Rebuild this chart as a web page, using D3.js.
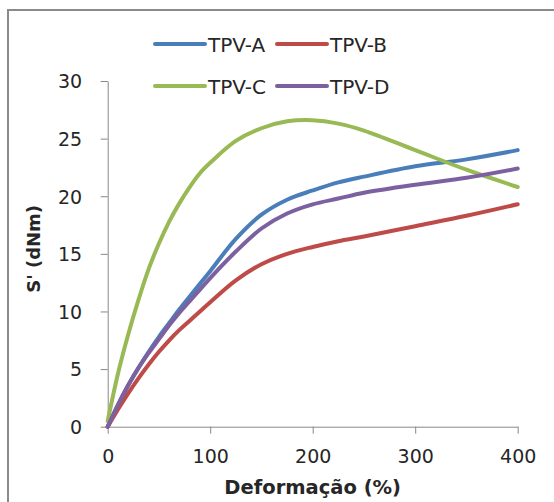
<!DOCTYPE html>
<html>
<head>
<meta charset="utf-8">
<script src="https://cdn.jsdelivr.net/npm/d3@7"></script>
<style>
  html, body { margin: 0; padding: 0; background: #ffffff; }
  svg { display: block; }
  text { font-family: "DejaVu Sans", sans-serif; fill: #262626; }
</style>
</head>
<body>
<svg id="chart" width="554" height="502"></svg>
<script>
// Strain steps (%) at which the modulus was recorded
const strain = [0, 10, 20, 30, 40, 50, 60, 70, 80, 90, 100, 125, 150, 175, 200, 225, 250, 300, 350, 400];

// Elastic torque S' (dNm) for each compound
const tpvA = [0, 1.9, 3.6, 5.1, 6.5, 7.8, 9.0, 10.2, 11.3, 12.4, 13.5, 16.3, 18.4, 19.7, 20.5, 21.2, 21.7, 22.6, 23.2, 24.0];
const tpvB = [0, 1.5, 2.9, 4.2, 5.4, 6.5, 7.5, 8.4, 9.2, 10.0, 10.8, 12.7, 14.1, 15.0, 15.6, 16.1, 16.5, 17.4, 18.3, 19.3];
const tpvC = [0.5, 4.6, 8.0, 11.0, 13.7, 15.9, 17.8, 19.4, 20.8, 22.0, 22.9, 24.8, 25.9, 26.5, 26.6, 26.3, 25.7, 24.0, 22.3, 20.8];
const tpvD = [0, 1.9, 3.6, 5.1, 6.4, 7.6, 8.8, 9.9, 10.9, 11.9, 12.9, 15.2, 17.2, 18.5, 19.3, 19.8, 20.3, 21.0, 21.6, 22.4];

const seriesNames = ["TPV-A", "TPV-B", "TPV-C", "TPV-D"];
const seriesColors = ["#4A7EBB", "#BE4B48", "#98B954", "#7D60A0"];
const seriesValues = [tpvA, tpvB, tpvC, tpvD];

const xTicks = [0, 100, 200, 300, 400];
const yTicks = [0, 5, 10, 15, 20, 25, 30];
const xTitle = "Deformação (%)";
const yTitle = "S' (dNm)";

const svg = d3.select("#chart");

// Chart frame
svg.append("rect")
  .attr("x", 8).attr("y", 10)
  .attr("width", 570).attr("height", 520)
  .attr("fill", "#ffffff")
  .attr("stroke", "#8a8a8a")
  .attr("stroke-width", 2);

const x = d3.scaleLinear().domain([0, 400]).range([107.7, 517.7]);
const y = d3.scaleLinear().domain([0, 30]).range([426.7, 81]);

const axisColor = "#888888";

// X axis
const gx = svg.append("g")
  .attr("transform", `translate(0,${y(0)})`)
  .call(d3.axisBottom(x).tickValues(xTicks).tickSize(7).tickSizeOuter(0).tickFormat(d3.format("d")));
gx.select(".domain").attr("stroke", axisColor);
gx.selectAll(".tick line").attr("stroke", axisColor);
gx.selectAll(".tick text")
  .attr("y", 36).attr("dy", null)
  .style("font-size", "19px")
  .style("font-family", "'DejaVu Sans', sans-serif")
  .attr("fill", "#262626");

// Y axis
const gy = svg.append("g")
  .attr("transform", `translate(${x(0)},0)`)
  .call(d3.axisLeft(y).tickValues(yTicks).tickSize(7).tickSizeOuter(0).tickFormat(d3.format("d")));
gy.select(".domain").attr("stroke", axisColor);
gy.selectAll(".tick line").attr("stroke", axisColor);
gy.selectAll(".tick text")
  .attr("x", -25.5).attr("dy", "0.36em")
  .style("font-size", "19px")
  .style("font-family", "'DejaVu Sans', sans-serif")
  .attr("fill", "#262626");

// Axis titles
svg.append("text")
  .attr("x", (x(0) + x(400)) / 2).attr("y", 494)
  .attr("text-anchor", "middle")
  .style("font-size", "19.5px").style("font-weight", "bold")
  .text(xTitle);

svg.append("text")
  .attr("transform", `translate(40,${(y(0) + y(30)) / 2 - 5}) rotate(-90)`)
  .attr("text-anchor", "middle")
  .style("font-size", "18px").style("font-weight", "bold")
  .text(yTitle);

// Curves
const line = d3.line()
  .x((d, i) => x(strain[i]))
  .y(d => y(d))
  .curve(d3.curveCatmullRom.alpha(0.5));

svg.append("g").selectAll("path")
  .data(seriesValues)
  .join("path")
  .attr("d", d => line(d))
  .attr("fill", "none")
  .attr("stroke", (d, i) => seriesColors[i])
  .attr("stroke-width", 4)
  .attr("stroke-linecap", "round")
  .attr("stroke-linejoin", "round");

// Legend (two rows, two columns)
const legendPos = [
  { lx: 155, ly: 44 },
  { lx: 277, ly: 44 },
  { lx: 155, ly: 86 },
  { lx: 277, ly: 86 }
];
const legend = svg.append("g");
seriesNames.forEach((name, i) => {
  const p = legendPos[i];
  legend.append("line")
    .attr("x1", p.lx).attr("x2", p.lx + 50)
    .attr("y1", p.ly).attr("y2", p.ly)
    .attr("stroke", seriesColors[i])
    .attr("stroke-width", 4)
    .attr("stroke-linecap", "round");
  legend.append("text")
    .attr("x", p.lx + 53).attr("y", p.ly + 7.5)
    .style("font-size", "20px")
    .text(name);
});
</script>
</body>
</html>
